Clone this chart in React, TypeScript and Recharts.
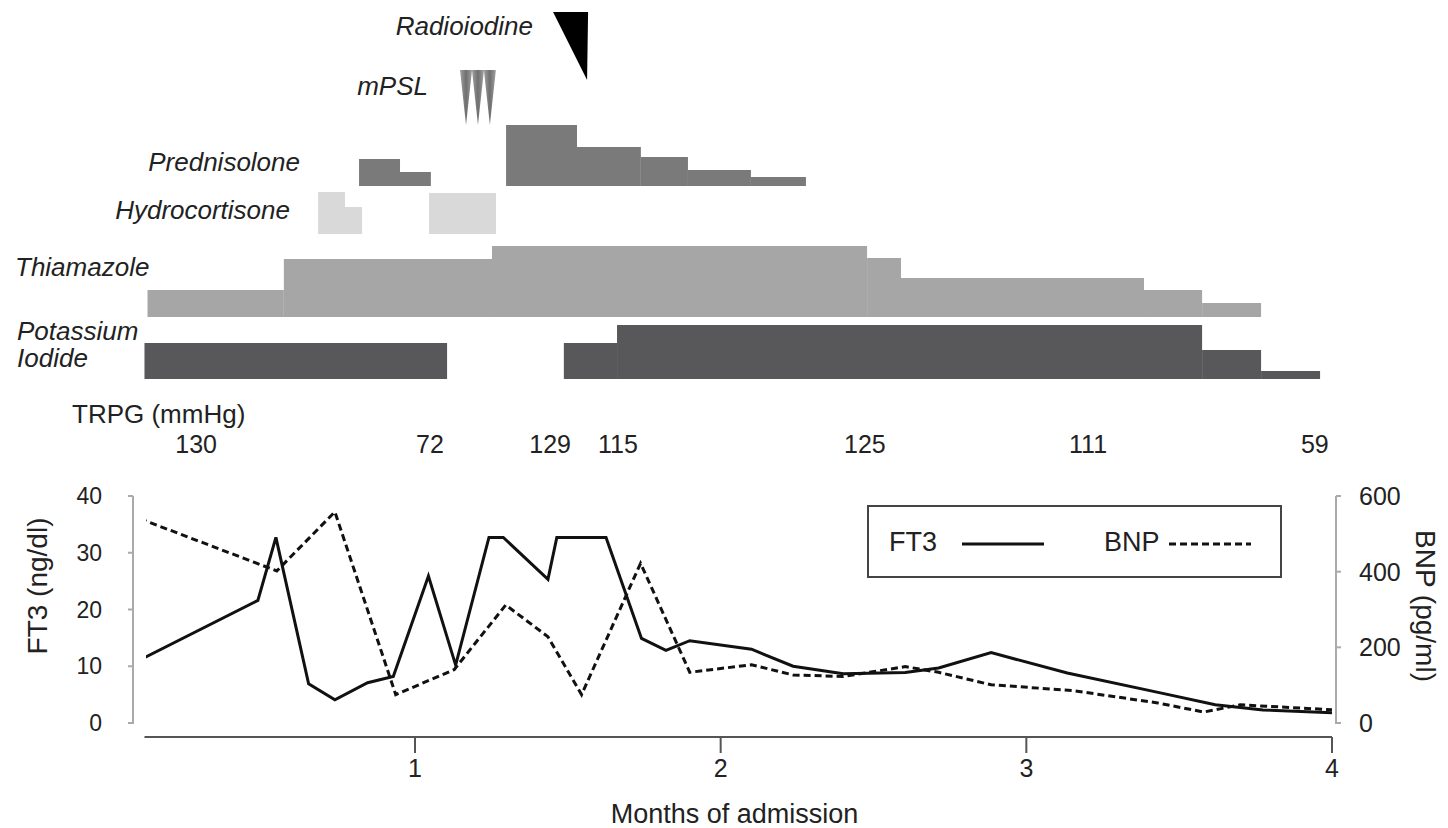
import React from "react";
import {
  ComposedChart,
  Line,
  XAxis,
  YAxis,
  ReferenceArea,
  ReferenceDot,
  Legend,
} from "recharts";

// ---- data (x = months of admission) ----
const ft3Months = [
  0.1, 0.486, 0.545, 0.652, 0.738, 0.845, 0.929, 1.044, 1.133, 1.242, 1.289,
  1.435, 1.464, 1.625, 1.741, 1.821, 1.899, 2.101, 2.237, 2.401, 2.604, 2.713,
  2.885, 3.134, 3.431, 3.618, 3.774, 4.0,
];
const ft3Values = [
  11.1, 21.6, 32.7, 6.9, 4.1, 7.1, 8.2, 25.9, 10.2, 32.7, 32.7, 25.3, 32.7,
  32.7, 14.9, 12.8, 14.5, 13.0, 10.0, 8.7, 8.9, 9.7, 12.4, 8.8, 5.4, 3.2, 2.3,
  1.8,
];
const bnpMonths = [
  0.1, 0.548, 0.738, 0.937, 1.128, 1.297, 1.435, 1.545, 1.738, 1.899, 2.101,
  2.237, 2.401, 2.604, 2.713, 2.885, 3.15, 3.43, 3.58, 3.7, 4.0,
];
const bnpValues = [
  540, 402, 558, 75, 141, 312, 228, 75, 422, 134, 154, 127, 123, 149, 134, 101,
  86, 53, 29, 48, 35,
];

const monthTicks = [1, 2, 3, 4];
const ft3Ticks = [0, 10, 20, 30, 40];
const bnpTicks = [0, 200, 400, 600];
const legendOrder = ["FT3", "BNP"];

// drug periods: [start month, end month, relative dose]
const potassiumIodide = [
  [0.115, 1.105, 36],
  [1.487, 1.661, 36],
  [1.661, 3.575, 54],
  [3.575, 3.768, 29],
  [3.768, 3.961, 8],
];
const thiamazole = [
  [0.125, 0.571, 27],
  [0.571, 1.252, 58],
  [1.252, 2.479, 71],
  [2.479, 2.59, 59],
  [2.59, 3.385, 39],
  [3.385, 3.575, 27],
  [3.575, 3.768, 14],
];
const hydrocortisone = [
  [0.683, 0.771, 42],
  [0.771, 0.827, 27],
  [1.046, 1.265, 41],
];
const prednisolone = [
  [0.817, 0.951, 27],
  [0.951, 1.052, 14],
  [1.298, 1.53, 61],
  [1.53, 1.739, 39],
  [1.739, 1.893, 29],
  [1.893, 2.099, 16],
  [2.099, 2.279, 9],
];
const mpslPulses = [1.167, 1.206, 1.245];
const radioiodineDose = [1.563];

const trpgMonths = [0.284, 1.049, 1.442, 1.664, 2.472, 3.202, 3.944];
const trpgValues = [130, 72, 129, 115, 125, 111, 59];

// ---- layout ----
const W = 1448;
const H = 828;
const TOP_H = 470;
const PLOT_LEFT = 133;
const PLOT_RIGHT = 1336;
const X_DOMAIN: [number, number] = [0.12, 4];
const X_PAD = { left: 13, right: 4 };
const FONT = '"Liberation Sans", Arial, Helvetica, sans-serif';
const INK = "#222";

// baselines of the drug rows, in top-panel units (0 = panel bottom)
const rows = [
  { periods: potassiumIodide, base: 91, fill: "#58585a" },
  { periods: thiamazole, base: 153, fill: "#a6a6a6" },
  { periods: hydrocortisone, base: 236, fill: "#d9d9d9" },
  { periods: prednisolone, base: 284, fill: "#7a7a7a" },
];
const MPSL_LEVEL = 400;
const RI_LEVEL = 458;
const TRPG_LEVEL = 26;

const ft3Data = ft3Months.map((m, i) => ({ m, v: ft3Values[i] }));
const bnpData = bnpMonths.map((m, i) => ({ m, v: bnpValues[i] }));

const rowLabels = [
  { text: "Radioiodine", right: 533, cy: 26 },
  { text: "mPSL", right: 428, cy: 86 },
  { text: "Prednisolone", right: 300, cy: 162 },
  { text: "Hydrocortisone", right: 290, cy: 210 },
  { text: "Thiamazole", left: 15, cy: 267 },
  { text: "Potassium", left: 17, cy: 331 },
  { text: "Iodide", left: 17, cy: 358 },
];

function LegendBox({ payload }: any) {
  const textLeft = [20, 235];
  const sampleLeft = [93, 300];
  const items = [...(payload || [])].sort(
    (a: any, b: any) => legendOrder.indexOf(a.value) - legendOrder.indexOf(b.value)
  );
  return (
    <div
      style={{
        position: "relative",
        width: 415,
        height: 73,
        boxSizing: "border-box",
        border: "2px solid #444",
        background: "#fff",
        fontFamily: FONT,
        fontSize: 27,
        color: INK,
      }}
    >
      {items.map((p: any, i: number) => (
        <React.Fragment key={p.value}>
          <span
            style={{
              position: "absolute",
              left: textLeft[i],
              top: 22,
              lineHeight: "27px",
            }}
          >
            {p.value}
          </span>
          <svg
            style={{ position: "absolute", left: sampleLeft[i], top: 34 }}
            width={82}
            height={6}
          >
            <line
              x1={0}
              x2={82}
              y1={3}
              y2={3}
              stroke="#111"
              strokeWidth={3}
              strokeDasharray={p.payload?.strokeDasharray}
            />
          </svg>
        </React.Fragment>
      ))}
    </div>
  );
}

export default function App() {
  return (
    <div
      style={{
        position: "absolute",
        left: 0,
        top: 0,
        width: W,
        height: H,
        background: "#fff",
        fontFamily: FONT,
        color: INK,
      }}
    >
      {/* treatment timeline */}
      <div style={{ position: "absolute", left: 0, top: 0 }}>
        <ComposedChart
          width={W}
          height={TOP_H}
          margin={{ top: 0, right: W - PLOT_RIGHT, bottom: 0, left: PLOT_LEFT }}
        >
          <defs>
            <linearGradient id="mpslFill" x1="0" y1="0" x2="1" y2="0">
              <stop offset="0%" stopColor="#a0a0a0" />
              <stop offset="50%" stopColor="#6f6f6f" />
              <stop offset="100%" stopColor="#a0a0a0" />
            </linearGradient>
          </defs>
          <XAxis
            type="number"
            dataKey="m"
            domain={X_DOMAIN}
            allowDataOverflow
            padding={X_PAD}
            hide
          />
          <YAxis type="number" domain={[0, TOP_H]} allowDataOverflow hide />
          {rows.map((row, r) =>
            row.periods.map(([x1, x2, dose], i) => (
              <ReferenceArea
                key={`r${r}-${i}`}
                x1={x1}
                x2={x2}
                y1={row.base}
                y2={row.base + dose}
                fill={row.fill}
                fillOpacity={1}
                stroke="none"
                ifOverflow="visible"
              />
            ))
          )}
          {mpslPulses.map((m) => (
            <ReferenceDot
              key={`mpsl-${m}`}
              x={m}
              y={MPSL_LEVEL}
              ifOverflow="visible"
              shape={(p: any) => (
                <polygon
                  points={`${p.cx - 6},${p.cy} ${p.cx + 6},${p.cy} ${p.cx},${p.cy + 55}`}
                  fill="url(#mpslFill)"
                />
              )}
            />
          ))}
          {radioiodineDose.map((m) => (
            <ReferenceDot
              key={`ri-${m}`}
              x={m}
              y={RI_LEVEL}
              ifOverflow="visible"
              shape={(p: any) => (
                <polygon
                  points={`${p.cx - 34},${p.cy} ${p.cx + 1},${p.cy} ${p.cx},${p.cy + 68}`}
                  fill="#000"
                />
              )}
            />
          ))}
          {trpgMonths.map((m, i) => (
            <ReferenceDot
              key={`trpg-${m}`}
              x={m}
              y={TRPG_LEVEL}
              ifOverflow="visible"
              shape={(p: any) => (
                <text
                  x={p.cx}
                  y={p.cy}
                  dy="0.36em"
                  textAnchor="middle"
                  fontSize={25}
                  fontFamily={FONT}
                  fill={INK}
                >
                  {trpgValues[i]}
                </text>
              )}
            />
          ))}
        </ComposedChart>
      </div>

      {rowLabels.map((l) => (
        <div
          key={l.text}
          style={{
            position: "absolute",
            top: l.cy - 13,
            left: l.left,
            right: l.right !== undefined ? W - l.right : undefined,
            fontSize: 26,
            lineHeight: "26px",
            fontStyle: "italic",
            whiteSpace: "nowrap",
          }}
        >
          {l.text}
        </div>
      ))}
      <div
        style={{
          position: "absolute",
          left: 72,
          top: 414 - 12,
          fontSize: 26,
          lineHeight: "24px",
          whiteSpace: "nowrap",
        }}
      >
        TRPG (mmHg)
      </div>

      {/* FT3 / BNP panel */}
      <div style={{ position: "absolute", left: 0, top: TOP_H }}>
        <ComposedChart
          width={W}
          height={H - TOP_H}
          margin={{ top: 26, right: 32, bottom: 5, left: 53 }}
        >
          <XAxis
            type="number"
            dataKey="m"
            domain={X_DOMAIN}
            allowDataOverflow
            padding={X_PAD}
            ticks={monthTicks}
            height={86}
            tickSize={16}
            tickMargin={6}
            axisLine={{
              stroke: "#555",
              strokeWidth: 2,
              strokeDasharray: "0 11.5 1187.5 2000",
            }}
            tickLine={{ stroke: "#555", strokeWidth: 2 }}
            tick={{ fill: INK, fontSize: 25, fontFamily: FONT }}
            label={{
              value: "Months of admission",
              position: "insideBottom",
              offset: 0,
              fill: INK,
              fontSize: 27,
              fontFamily: FONT,
            }}
          />
          <YAxis
            yAxisId="ft3"
            orientation="left"
            type="number"
            width={80}
            domain={[-2.467, 40]}
            allowDataOverflow
            ticks={ft3Ticks}
            tickSize={5}
            tickMargin={26}
            axisLine={{ stroke: "#aaa", strokeWidth: 2, strokeDasharray: "228 2000" }}
            tickLine={{ stroke: "#aaa", strokeWidth: 2 }}
            tick={{ fill: INK, fontSize: 23, fontFamily: FONT }}
          />
          <YAxis
            yAxisId="bnp"
            orientation="right"
            type="number"
            width={80}
            domain={[-37, 600]}
            allowDataOverflow
            ticks={bnpTicks}
            tickSize={5}
            tickMargin={18}
            axisLine={{ stroke: "#aaa", strokeWidth: 2, strokeDasharray: "228 2000" }}
            tickLine={{ stroke: "#aaa", strokeWidth: 2 }}
            tick={{ fill: INK, fontSize: 25, fontFamily: FONT }}
          />
          <Line
            yAxisId="ft3"
            data={ft3Data}
            dataKey="v"
            name="FT3"
            type="linear"
            stroke="#111"
            strokeWidth={3}
            dot={false}
            isAnimationActive={false}
          />
          <Line
            yAxisId="bnp"
            data={bnpData}
            dataKey="v"
            name="BNP"
            type="linear"
            stroke="#111"
            strokeWidth={3}
            strokeDasharray="7 4"
            dot={false}
            isAnimationActive={false}
          />
          <Legend
            layout="horizontal"
            verticalAlign="middle"
            align="center"
            content={<LegendBox />}
            wrapperStyle={{ position: "absolute", left: 867, top: 35, width: 415, height: 73 }}
          />
        </ComposedChart>
      </div>

      <div
        style={{
          position: "absolute",
          left: 38,
          top: 586,
          transform: "translate(-50%, -50%) rotate(-90deg)",
          fontSize: 28,
          lineHeight: "28px",
          whiteSpace: "nowrap",
        }}
      >
        FT3 (ng/dl)
      </div>
      <div
        style={{
          position: "absolute",
          left: 1425,
          top: 606,
          transform: "translate(-50%, -50%) rotate(90deg)",
          fontSize: 28,
          lineHeight: "28px",
          whiteSpace: "nowrap",
        }}
      >
        BNP (pg/ml)
      </div>
    </div>
  );
}
